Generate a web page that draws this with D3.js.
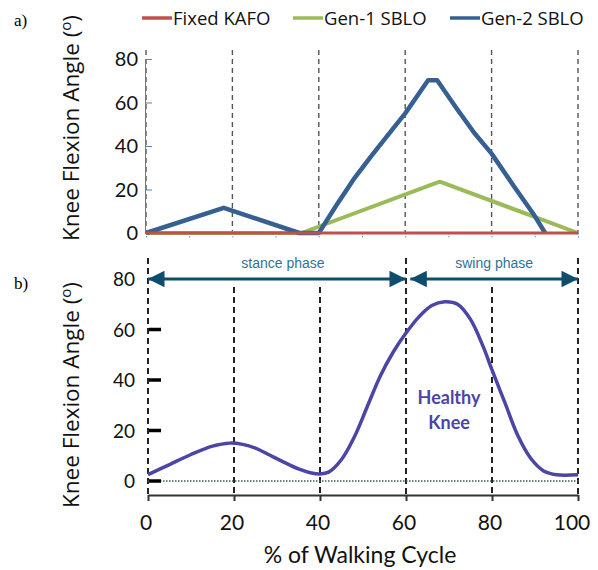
<!DOCTYPE html>
<html lang="en">
<head>
<meta charset="UTF-8">
<title>Knee flexion</title>
<script src="https://d3js.org/d3.v7.min.js"></script>
<style>
  body { margin: 0; background: #fff; }
  text { font-family: Lato, "Open Sans", sans-serif; }
</style>
</head>
<body>
<div id="chart"></div>
<script>
// walking cycle (%) and knee angle (deg)
var pctTicks = [0, 20, 40, 60, 80, 100];
var angleTicks = [0, 20, 40, 60, 80];

var kafoPct = [0, 100];
var kafoVal = [0, 0];

var gen1Pct = [0, 36, 68, 100];
var gen1Val = [0, 0, 23.6, 0];

var gen2Pct = [0, 18, 35.5, 40, 44, 48, 52, 57, 60, 65.3, 67.4, 72, 76, 80, 85, 89.6, 92.4];
var gen2Val = [0, 11.6, 0, 0, 12.5, 24.5, 35, 47.5, 55, 70.2, 70.2, 57, 46, 36.5, 22, 9, 0];

var healthyPct = [0, 5, 10, 15, 19, 22, 25, 28, 31, 35, 38, 40, 42, 45, 48, 51, 54, 57, 60, 63, 66, 69, 72, 75, 78, 80, 83, 86, 89, 92, 95, 100];
var healthyVal = [2.5, 6.5, 10.5, 13.8, 15, 14.5, 13, 10.5, 8, 4.8, 3.2, 2.8, 3.5, 8.5, 17.5, 29.5, 41.5, 51, 58.6, 65, 69.5, 71, 70, 64, 53, 44, 31, 18, 9, 4, 2.5, 2.5];

var legendNames = ["Fixed KAFO", "Gen-1 SBLO", "Gen-2 SBLO"];
var legendColors = ["#c0504d", "#9bbb59", "#376092"];

var W = 598, H = 570;
var svg = d3.select("#chart").append("svg")
  .attr("width", W).attr("height", H);

function zip(a, b) { return a.map(function(v, i) { return [v, b[i]]; }); }

// ---------- panel a ----------
var xa = d3.scaleLinear().domain([0, 100]).range([146, 578]);
var ya = d3.scaleLinear().domain([0, 80]).range([233, 59]);

svg.append("text").attr("x", 14).attr("y", 26)
  .style("font-family", "'Liberation Serif', serif").style("font-size", "17px").text("a)");

// legend
var lx = [142, 293, 450];
legendNames.forEach(function(n, i) {
  svg.append("line").attr("x1", lx[i]).attr("x2", lx[i] + 30)
    .attr("y1", 18).attr("y2", 18)
    .attr("stroke", legendColors[i]).attr("stroke-width", 3.5);
  svg.append("text").attr("x", lx[i] + 31).attr("y", 25)
    .style("font-family", "'Open Sans', sans-serif")
    .style("font-size", "18.5px").attr("fill", "#111").text(n);
});

// dashed guides
svg.append("g").selectAll("line").data(pctTicks).enter().append("line")
  .attr("x1", function(d) { return xa(d); }).attr("x2", function(d) { return xa(d); })
  .attr("y1", 50).attr("y2", 233)
  .attr("stroke", "#555").attr("stroke-width", 1.4).attr("stroke-dasharray", "5,4");

// y axis (blue, ticks inward)
var yAxA = svg.append("g").attr("transform", "translate(145,0)")
  .call(d3.axisRight(ya).tickValues(angleTicks).tickSize(7).tickFormat(""));
yAxA.select(".domain").attr("stroke", "#4f81bd");
yAxA.selectAll(".tick line").attr("stroke", "#4f81bd");
svg.append("g").selectAll("text").data(angleTicks).enter().append("text")
  .attr("x", 138).attr("y", function(d) { return ya(d) + 7; })
  .attr("text-anchor", "end").style("font-size", "20px").attr("fill", "#111")
  .text(function(d) { return d; });

// x minor ticks
svg.append("g").attr("transform", "translate(0,233)")
  .call(d3.axisBottom(xa).ticks(10).tickSize(5).tickFormat(""))
  .call(function(g) {
    g.select(".domain").remove();
    g.selectAll(".tick line").attr("stroke", "#6d9bd1").attr("stroke-dasharray", "1.5,1.5");
  });

var lineA = d3.line().x(function(d) { return xa(d[0]); }).y(function(d) { return ya(d[1]); });
svg.append("path").datum(zip(gen1Pct, gen1Val)).attr("d", lineA)
  .attr("fill", "none").attr("stroke", legendColors[1]).attr("stroke-width", 4).attr("stroke-linejoin", "round");
svg.append("path").datum(zip(gen2Pct, gen2Val)).attr("d", lineA)
  .attr("fill", "none").attr("stroke", legendColors[2]).attr("stroke-width", 4.5).attr("stroke-linejoin", "round");
svg.append("path").datum(zip(kafoPct, kafoVal)).attr("d", lineA)
  .attr("fill", "none").attr("stroke", legendColors[0]).attr("stroke-width", 3);

function yTitle(cx, cy) {
  var t = svg.append("text")
    .attr("transform", "translate(" + cx + "," + cy + ") rotate(-90)")
    .attr("text-anchor", "middle").style("font-family", "'Open Sans', sans-serif")
    .style("font-size", "22.5px").attr("fill", "#111");
  t.append("tspan").text("Knee Flexion Angle (");
  t.append("tspan").attr("dy", -8).style("font-size", "15px").text("o");
  t.append("tspan").attr("dy", 8).text(")");
}
yTitle(79, 128);

// ---------- panel b ----------
var xb = d3.scaleLinear().domain([0, 100]).range([148, 578]);
var yb = d3.scaleLinear().domain([0, 80]).range([481, 279]);

svg.append("text").attr("x", 14).attr("y", 289)
  .style("font-family", "'Liberation Serif', serif").style("font-size", "17px").text("b)");

// dashed guides (long ones at phase boundaries)
svg.append("g").selectAll("line").data(pctTicks).enter().append("line")
  .attr("x1", function(d) { return xb(d); }).attr("x2", function(d) { return xb(d); })
  .attr("y1", function(d) { return (d === 0 || d === 60 || d === 100) ? 258 : 287; })
  .attr("y2", 495)
  .attr("stroke", "#222").attr("stroke-width", 2).attr("stroke-dasharray", "6,4");

// zero reference (dotted)
svg.append("line").attr("x1", xb(0)).attr("x2", xb(100) + 2)
  .attr("y1", yb(0)).attr("y2", yb(0))
  .attr("stroke", "#3d5e4a").attr("stroke-width", 1.3).attr("stroke-dasharray", "1.5,1.5");

// bottom axis
var xAxB = svg.append("g").attr("transform", "translate(0,495)")
  .call(d3.axisBottom(xb).tickValues(pctTicks).tickSize(6).tickSizeOuter(0).tickFormat(""));
xAxB.select(".domain").attr("stroke", "#333").attr("stroke-width", 2);
xAxB.selectAll(".tick line").attr("stroke", "#333").attr("stroke-width", 2);
svg.append("g").selectAll("text").data(pctTicks).enter().append("text")
  .attr("x", function(d) { return xb(d) - (d === 100 ? 6 : 2); }).attr("y", 530)
  .attr("text-anchor", "middle").style("font-size", "21px").attr("fill", "#111")
  .text(function(d) { return d; });

// y ticks: thick black stubs
svg.append("g").selectAll("line").data(angleTicks.filter(function(d) { return d < 80; }))
  .enter().append("line")
  .attr("x1", xb(0) + 1).attr("x2", xb(0) + 13)
  .attr("y1", function(d) { return yb(d); }).attr("y2", function(d) { return yb(d); })
  .attr("stroke", "#000").attr("stroke-width", 3.5);
svg.append("g").selectAll("text").data(angleTicks).enter().append("text")
  .attr("x", 135).attr("y", function(d) { return yb(d) + 7; })
  .attr("text-anchor", "end").style("font-size", "19px").attr("fill", "#111")
  .text(function(d) { return d; });

// phase arrows
var arrowC = "#0f4c6e";
var defs = svg.append("defs");
defs.append("marker").attr("id", "ah").attr("viewBox", "0 0 10 10")
  .attr("refX", 10).attr("refY", 5).attr("markerWidth", 7).attr("markerHeight", 5.5)
  .attr("markerUnits", "strokeWidth").attr("orient", "auto-start-reverse")
  .append("path").attr("d", "M0,0 L10,5 L0,10 z").attr("fill", arrowC);

var phases = [{ name: "stance phase", a: 0, b: 60 }, { name: "swing phase", a: 61, b: 100 }];
phases.forEach(function(p) {
  svg.append("line").attr("x1", xb(p.a)).attr("x2", xb(p.b))
    .attr("y1", yb(80)).attr("y2", yb(80))
    .attr("stroke", arrowC).attr("stroke-width", 3)
    .attr("marker-start", "url(#ah)").attr("marker-end", "url(#ah)");
  svg.append("text").attr("x", (xb(p.a) + xb(p.b)) / 2 + (p.a === 0 ? 6 : 0)).attr("y", 268)
    .attr("text-anchor", "middle").style("font-family", "'Liberation Sans', Arial, sans-serif")
    .style("font-size", "14px").attr("fill", "#2f7496").text(p.name);
});

// healthy knee curve
var lineB = d3.line().curve(d3.curveCatmullRom.alpha(0.5))
  .x(function(d) { return xb(d[0]); }).y(function(d) { return yb(d[1]); });
svg.append("path").datum(zip(healthyPct, healthyVal)).attr("d", lineB)
  .attr("fill", "none").attr("stroke", "#4b45a6").attr("stroke-width", 3.5);

var hk = svg.append("text").attr("text-anchor", "middle")
  .style("font-size", "18px").style("font-weight", "bold").attr("fill", "#4b45a6");
hk.append("tspan").attr("x", 449).attr("y", 404).text("Healthy");
hk.append("tspan").attr("x", 449).attr("y", 429).text("Knee");

yTitle(79, 395);

svg.append("text").attr("x", 360).attr("y", 563).attr("text-anchor", "middle")
  .style("font-size", "23px").attr("fill", "#111").text("% of Walking Cycle");
</script>
</body>
</html>
